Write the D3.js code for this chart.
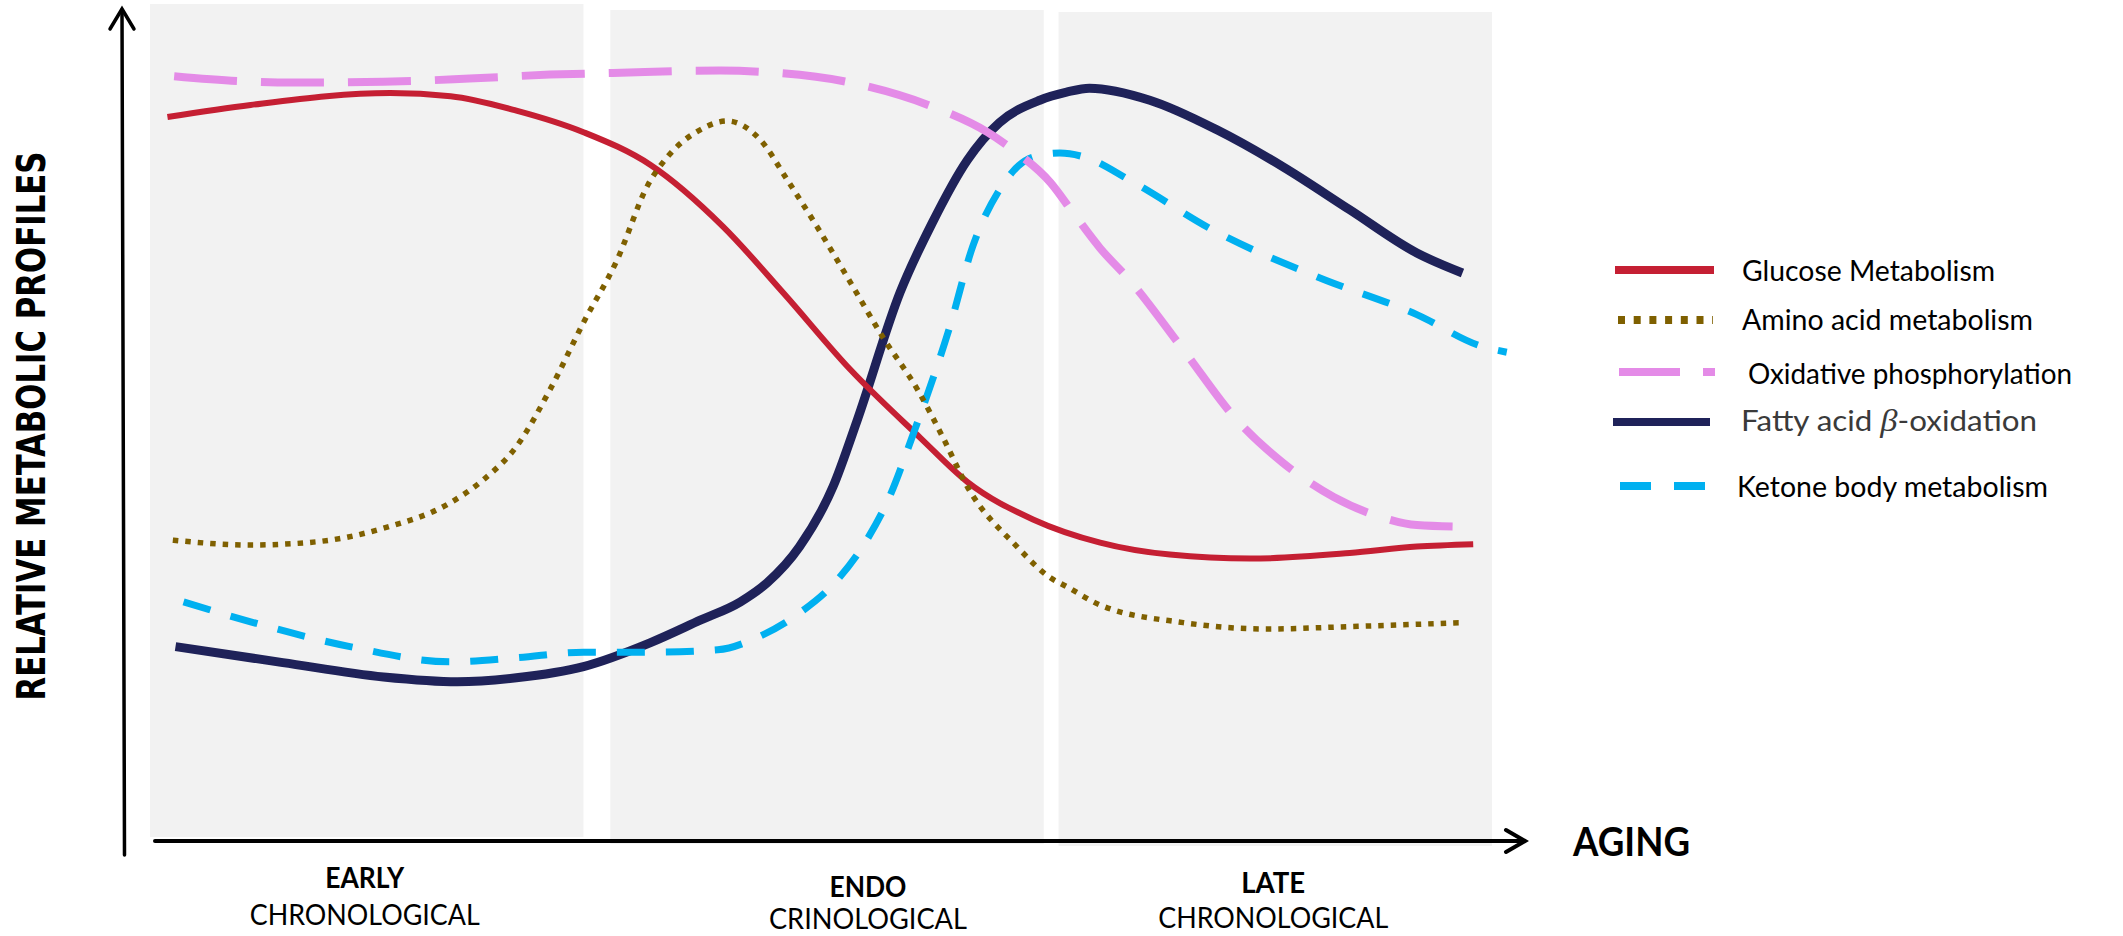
<!DOCTYPE html>
<html><head><meta charset="utf-8">
<script src="https://cdn.jsdelivr.net/npm/d3@7"></script>
<style>html,body{margin:0;padding:0;background:#fff;overflow:hidden}svg{display:block}</style>
</head><body><svg id="c" width="2123" height="936"></svg>
<script>
// ---------------- DATA (aging position 0-100, relative level 0-100) ----------------
const stageNames = ["EARLY", "ENDO", "LATE"];
const stageSubs = ["CHRONOLOGICAL", "CRINOLOGICAL", "CHRONOLOGICAL"];
const stageStart = [0, 34.3, 67.7];
const stageEnd = [32.3, 66.6, 100];
const stageLabelX = [16.0, 53.5, 83.7];

const seriesNames = ["Glucose Metabolism", "Amino acid metabolism", "Oxidative phosphorylation", "Fatty acid β-oxidation", "Ketone body metabolism"];

const glucose = [[1.3,90.5],[7.5,92.0],[17.9,93.5],[22.4,93.1],[27.3,91.3],[32.3,88.6],[37.3,84.5],[42.7,76.8],[47.2,68.5],[52.2,58.9],[57.4,50.4],[60.9,44.9],[65.8,40.2],[70.8,37.3],[76.0,35.8],[82.0,35.3],[89.4,36.0],[94.4,36.8],[98.6,37.1]];
const aminoAcid = [[1.7,37.6],[7.5,37.0],[12.4,37.4],[17.4,39.1],[22.4,42.3],[24.8,45.1],[27.3,49.3],[29.8,56.4],[32.3,64.8],[34.8,72.6],[37.1,82.0],[38.5,85.4],[41.0,88.9],[43.0,90.0],[45.5,87.6],[47.5,82.6],[49.7,76.8],[52.2,69.8],[54.6,63.0],[57.2,56.4],[59.1,50.4],[60.9,44.3],[64.6,36.8],[67.1,32.9],[68.3,31.8],[70.8,29.5],[77.0,27.3],[83.2,26.5],[89.4,26.8],[97.8,27.3]];
const oxPhos = [[1.8,95.6],[6.5,95.0],[10.7,94.8],[17.4,94.9],[23.8,95.3],[29.8,95.8],[34.5,96.0],[42.5,96.3],[46.0,96.1],[52.2,94.8],[58.3,91.8],[62.4,88.6],[64.3,86.4],[67.1,82.3],[68.8,78.5],[70.8,74.1],[73.0,70.1],[77.0,61.4],[81.0,52.6],[84.4,47.3],[88.2,43.0],[91.9,40.4],[94.4,39.5],[97.6,39.3]];
const fattyAcid = [[1.9,24.3],[9.9,22.3],[17.4,20.5],[22.9,19.9],[27.3,20.4],[32.3,21.8],[37.3,24.8],[41.0,27.6],[44.0,29.9],[46.0,32.3],[48.4,36.8],[50.9,44.3],[52.7,52.6],[55.9,68.6],[58.3,77.3],[60.9,85.1],[63.3,89.8],[66.3,92.6],[68.3,93.6],[70.0,94.1],[74.5,92.6],[79.5,88.9],[84.4,84.3],[89.4,78.9],[94.4,73.5],[97.8,71.0]];
const ketone = [[2.5,29.9],[7.5,27.4],[14.9,24.3],[22.4,22.4],[27.3,22.9],[32.3,23.6],[37.3,23.6],[42.3,23.9],[45.2,25.4],[48.4,28.5],[51.2,32.6],[53.4,37.6],[55.1,43.0],[56.9,51.0],[58.3,57.6],[59.6,64.3],[61.3,74.3],[63.3,81.4],[65.8,85.5],[67.8,86.0],[69.8,85.4],[73.0,82.6],[79.5,76.1],[87.0,70.5],[94.4,65.8],[99.3,61.8],[101.1,61.1]];

// ---------------- STYLE / LAYOUT ----------------
const seriesData = [glucose, aminoAcid, oxPhos, fattyAcid, ketone];
const seriesColor = ["#c51f33", "#7f6000", "#e48be7", "#1f2259", "#00b0f0"];
const seriesWidth = [6, 5.5, 8, 9, 7];
const seriesDash = [null, "5.5,7", "63,24", null, "28,21"];
const drawOrder = [3, 0, 4, 1, 2];

const svg = d3.select("#c");
const x = d3.scaleLinear().domain([0, 100]).range([150, 1492]);
const y = d3.scaleLinear().domain([0, 100]).range([841, 41]);

// stage panels
const panelTop = [4, 10, 12], panelBottom = [837, 844, 846];
svg.append("g").selectAll("rect").data(stageNames).join("rect")
  .attr("x", (d, i) => x(stageStart[i]))
  .attr("width", (d, i) => x(stageEnd[i]) - x(stageStart[i]))
  .attr("y", (d, i) => panelTop[i])
  .attr("height", (d, i) => panelBottom[i] - panelTop[i])
  .attr("fill", "#f2f2f2");

// axes (arrows)
const ax = svg.append("g").attr("stroke", "#000").attr("fill", "none").attr("stroke-linecap", "round");
ax.append("line").attr("x1", 124.5).attr("y1", 855).attr("x2", 122).attr("y2", 10).attr("stroke-width", 3.5);
ax.append("path").attr("d", "M110,29 L122,9 L134,29").attr("stroke-width", 3.5).attr("stroke-linejoin", "miter");
ax.append("line").attr("x1", 155).attr("y1", 841).attr("x2", 1524).attr("y2", 841).attr("stroke-width", 4);
ax.append("path").attr("d", "M1506,830 L1525,841 L1506,852").attr("stroke-width", 4).attr("stroke-linejoin", "miter");

// curves
const line = d3.line().x(d => x(d[0])).y(d => y(d[1])).curve(d3.curveMonotoneX);
const cg = svg.append("g").attr("fill", "none");
drawOrder.forEach(i => {
  cg.append("path").datum(seriesData[i])
    .attr("d", line)
    .attr("stroke", seriesColor[i])
    .attr("stroke-width", seriesWidth[i])
    .attr("stroke-dasharray", seriesDash[i])
    .attr("stroke-linecap", "butt");
});

// y axis title
svg.append("text")
  .attr("transform", "translate(45,426) rotate(-90)")
  .attr("text-anchor", "middle")
  .attr("font-family", "'Liberation Sans Narrow','DejaVu Sans Condensed',sans-serif")
  .attr("font-weight", "bold").attr("font-size", 39)
  .attr("textLength", 549).attr("lengthAdjust", "spacingAndGlyphs")
  .attr("fill", "#000").text("RELATIVE METABOLIC PROFILES");

// x axis title
svg.append("text").attr("x", 1573).attr("y", 856)
  .attr("font-family", "Lato, sans-serif").attr("font-weight", "bold").attr("font-size", 41)
  .attr("textLength", 117).attr("lengthAdjust", "spacingAndGlyphs").text("AGING");

// stage labels
const stageBase = [888, 897, 893], subBase = [925, 929, 928];
const stageW = [79, 77, 64], subW = [230, 198, 230];
const lg = svg.append("g").attr("font-family", "Lato, sans-serif").attr("text-anchor", "middle").attr("fill", "#000");
stageNames.forEach((s, i) => {
  lg.append("text").attr("x", x(stageLabelX[i])).attr("y", stageBase[i])
    .attr("font-weight", "bold").attr("font-size", 28)
    .attr("textLength", stageW[i]).attr("lengthAdjust", "spacingAndGlyphs").text(s);
  lg.append("text").attr("x", x(stageLabelX[i])).attr("y", subBase[i])
    .attr("font-size", 28)
    .attr("textLength", subW[i]).attr("lengthAdjust", "spacingAndGlyphs").text(stageSubs[i]);
});

// legend
const legLineX1 = [1615, 1618, 1619, 1613, 1620];
const legLineX2 = [1714, 1713, 1715, 1710, 1705];
const legLineY = [270, 320, 372, 422, 486];
const legDash = [null, "7,8.7", "61,23", null, "31,23"];
const legTextX = [1742, 1742, 1748, 1741, 1737];
const legTextY = [281, 330, 384, 431, 497];
const legTextW = [253, 291, 324, 296, 311];
const leg = svg.append("g");
seriesNames.forEach((n, i) => {
  leg.append("line").attr("x1", legLineX1[i]).attr("x2", legLineX2[i])
    .attr("y1", legLineY[i]).attr("y2", legLineY[i])
    .attr("stroke", seriesColor[i]).attr("stroke-width", 8)
    .attr("stroke-dasharray", legDash[i]);
  const t = leg.append("text").attr("x", legTextX[i]).attr("y", legTextY[i])
    .attr("font-family", "Lato, sans-serif").attr("font-size", 29)
    .attr("fill", i === 3 ? "#3a3a3a" : "#000")
    .attr("textLength", legTextW[i]).attr("lengthAdjust", "spacingAndGlyphs");
  if (n.includes("β")) {
    const parts = n.split("β");
    t.append("tspan").text(parts[0]);
    t.append("tspan").attr("font-family", "'Liberation Serif', 'DejaVu Serif', serif").attr("font-style", "italic").attr("font-size", 32).text("β");
    t.append("tspan").text(parts[1]);
  } else {
    t.text(n);
  }
});
</script></body></html>
